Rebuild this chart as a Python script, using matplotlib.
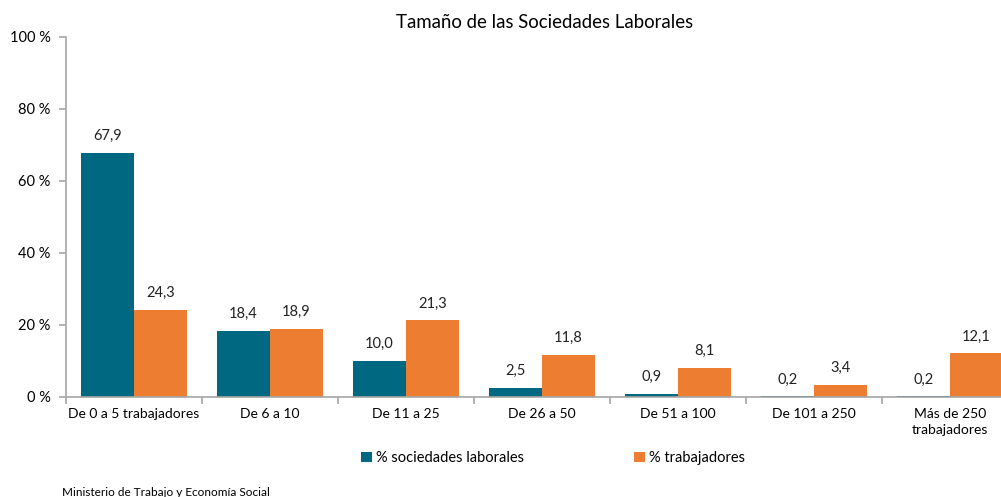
import matplotlib
matplotlib.use("Agg")
import matplotlib.pyplot as plt
import numpy as np

# Data
categories = ["De 0 a 5 trabajadores", "De 6 a 10", "De 11 a 25", "De 26 a 50",
              "De 51 a 100", "De 101 a 250", "Más de 250\ntrabajadores"]
sociedades = [67.9, 18.4, 10.0, 2.5, 0.9, 0.2, 0.2]
trabajadores = [24.3, 18.9, 21.3, 11.8, 8.1, 3.4, 12.1]
y_ticks = [0, 20, 40, 60, 80, 100]

blue = "#006880"
orange = "#ED7D31"
grey = "#A6A6A6"

plt.rcParams['font.family'] = ['Lato', 'DejaVu Sans']

fig = plt.figure(figsize=(10.01, 4.97), dpi=100)
ax = fig.add_axes([66 / 1001, 1 - 397 / 497, 1 - 66 / 1001, (397 - 37) / 497])

x = np.arange(len(categories))
w = 0.39
b1 = ax.bar(x - w / 2, sociedades, w, color=blue, label="% sociedades laborales")
b2 = ax.bar(x + w / 2, trabajadores, w, color=orange, label="% trabajadores")

for bars, vals in ((b1, sociedades), (b2, trabajadores)):
    for r, v in zip(bars, vals):
        ax.annotate(f"{v:.1f}".replace(".", ","), (r.get_x() + r.get_width() / 2, v),
                    xytext=(0, 7), textcoords="offset points", ha="center", va="bottom",
                    fontsize=10.5, color="#222222")

ax.set_ylim(0, 100)
ax.set_yticks(y_ticks)
ax.set_yticklabels([f"{t} %" for t in y_ticks], fontsize=10.5)

# category labels at centres, ticks at boundaries
ax.set_xticks(x)
ax.set_xticklabels(categories, fontsize=10, va="top", linespacing=1.4)
ax.tick_params(axis="x", length=0, pad=8)
ax.set_xticks(np.arange(len(categories)) - 0.5, minor=True)
ax.tick_params(axis="x", which="minor", length=5, color=grey, width=1.2)
ax.tick_params(axis="y", length=5, color=grey, width=1.2, pad=6)
# the chart is cut off at the right edge
ax.set_xlim(-0.5, -0.5 + (1001 - 66) / 136)

for s in ("top", "right"):
    ax.spines[s].set_visible(False)
for s in ("left", "bottom"):
    ax.spines[s].set_color(grey)
    ax.spines[s].set_linewidth(1.2)

fig.text(545 / 1001, 1 - 22 / 497, "Tamaño de las Sociedades Laborales",
         ha="center", va="center", fontsize=13.4)

fig.legend(handles=[b1, b2], loc="center", bbox_to_anchor=(553 / 1001, 1 - 458 / 497),
           ncol=2, frameon=False, fontsize=10.5, handlelength=0.75, handleheight=0.75,
           handletextpad=0.3, columnspacing=7.5)

fig.text(62 / 1001, 1 - 493 / 497, "Ministerio de Trabajo y Economía Social",
         ha="left", va="center", fontsize=8.5)

fig.savefig("out.png", dpi=100)
